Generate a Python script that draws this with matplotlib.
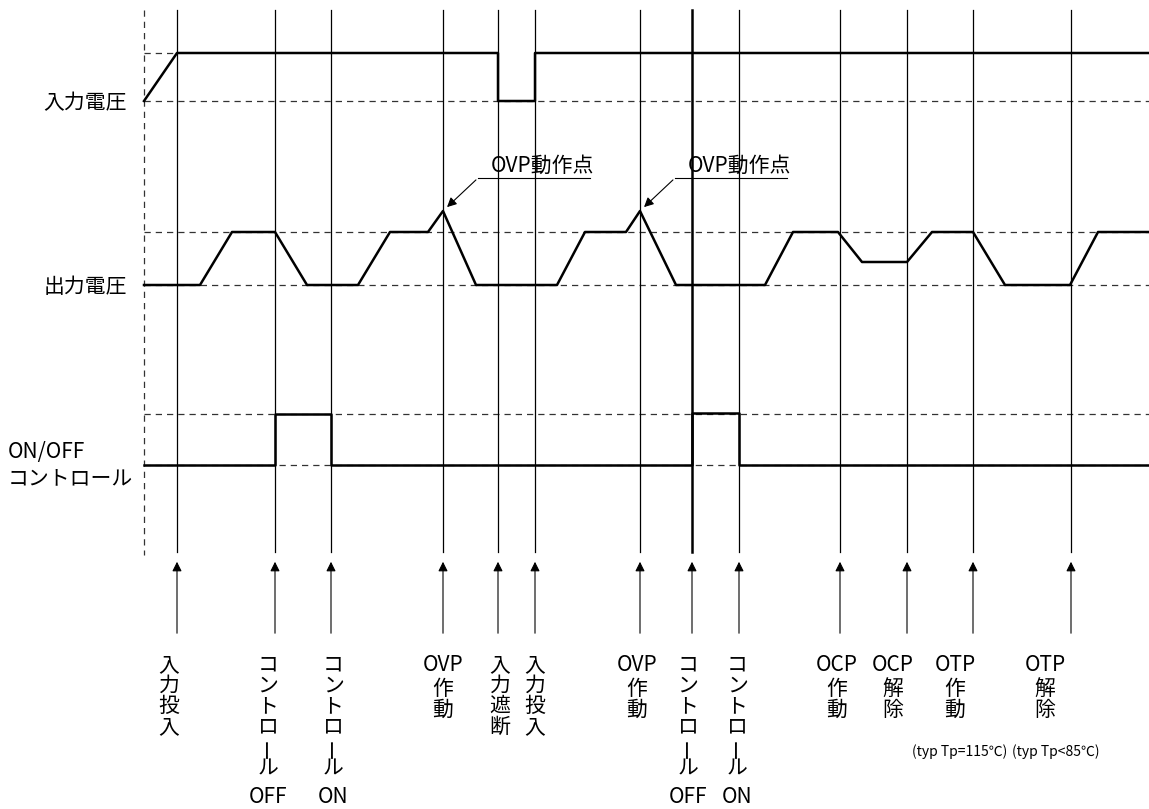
import matplotlib.pyplot as plt

plt.rcParams['font.family'] = ['Noto Sans CJK JP', 'DejaVu Sans']

# event times (x, pixel units of the drawing)
events_x = [177, 275, 331, 443, 498, 535, 640, 692, 739, 840, 907, 973, 1071]
event_lw = [0.9, 0.9, 0.9, 0.9, 0.9, 0.9, 0.9, 1.8, 0.9, 0.9, 0.9, 0.9, 0.9]

# input voltage waveform
vin_t = [144, 177, 498, 498, 535, 535, 1149]
vin_v = [101, 53, 53, 101, 101, 53, 53]

# output voltage waveform
vout_t = [144, 200, 232, 275, 307, 358, 390, 428, 443, 476, 557, 585, 626, 640,
          676, 765, 793, 838, 862, 907, 932, 973, 1005, 1070, 1098, 1149]
vout_v = [285, 285, 232, 232, 285, 285, 232, 232, 211, 285, 285, 232, 232, 211,
          285, 285, 232, 232, 262, 262, 232, 232, 285, 285, 232, 232]

# ON/OFF control waveform
ctl_t = [144, 275, 275, 331, 331, 692, 692, 739, 739, 1149]
ctl_v = [465, 465, 414, 414, 465, 465, 413, 413, 465, 465]

# reference levels (dashed)
levels = [53, 101, 232, 285, 414, 465]

# signal names on the left
sig_names = ["入力電圧", "出力電圧", "ON/OFF", "コントロール"]
sig_y = [103, 287, 452, 478]

# vertical labels under the arrows
col_x = [169, 268, 333, 443, 500, 535, 637, 688, 737, 837, 893, 955, 1045]
col_text = [
    ["入", "力", "投", "入"],
    ["コ", "ン", "ト", "ロ", "ー", "ル"],
    ["コ", "ン", "ト", "ロ", "ー", "ル"],
    ["OVP", "作", "動"],
    ["入", "力", "遮", "断"],
    ["入", "力", "投", "入"],
    ["OVP", "作", "動"],
    ["コ", "ン", "ト", "ロ", "ー", "ル"],
    ["コ", "ン", "ト", "ロ", "ー", "ル"],
    ["OCP", "作", "動"],
    ["OCP", "解", "除"],
    ["OTP", "作", "動"],
    ["OTP", "解", "除"],
]
foot_text = ["OFF", "ON", "OFF", "ON", "(typ Tp=115℃)", "(typ Tp<85℃)"]
foot_x = [268, 333, 688, 737, 960, 1056]
foot_y = [797, 797, 797, 797, 752, 752]

# OVP trip point callouts
ovp_peak_x = [443, 640]
ovp_text_x = [478, 675]

fig = plt.figure(figsize=(11.49, 8.09), dpi=100)
ax = fig.add_axes([0, 0, 1, 1])
ax.set_xlim(0, 1149)
ax.set_ylim(809, 0)
ax.axis("off")

dash = dict(color="#333333", lw=0.9, linestyle=(0, (5, 4)))
FS = 15

# left dashed axis
ax.plot([144, 144], [10, 555], **dash)
for y in levels:
    x_end = 177 if y == 53 else 1149
    ax.plot([144, x_end], [y, y], **dash)

# event lines and arrows
for x, lw in zip(events_x, event_lw):
    ax.plot([x, x], [10, 552], color="black", lw=lw)
    ax.annotate("", xy=(x, 559), xytext=(x, 636),
                arrowprops=dict(arrowstyle="-|>", color="black", lw=0.8,
                                mutation_scale=14))

# waveforms
ax.plot(vin_t, vin_v, color="black", lw=1.8)
ax.plot(vout_t, vout_v, color="black", lw=1.8)
ax.plot(ctl_t, ctl_v, color="black", lw=1.8)

# OVP callouts
for px, tx in zip(ovp_peak_x, ovp_text_x):
    ax.plot([tx, tx + 112], [178, 178], color="black", lw=0.8)
    ax.annotate("", xy=(px + 2, 209), xytext=(tx, 178),
                arrowprops=dict(arrowstyle="-|>", color="black", lw=0.8,
                                mutation_scale=14))
    ax.text(tx + 64, 177, "OVP動作点", ha="center", va="bottom", fontsize=FS)

# signal names
ax.text(127, sig_y[0], sig_names[0], ha="right", va="center", fontsize=FS)
ax.text(127, sig_y[1], sig_names[1], ha="right", va="center", fontsize=FS)
ax.text(8, sig_y[2], sig_names[2], ha="left", va="center", fontsize=FS)
ax.text(8, sig_y[3], sig_names[3], ha="left", va="center", fontsize=FS)

# bottom vertical labels
for x, chars in zip(col_x, col_text):
    y = 665
    for c in chars:
        rot = 90 if c == "ー" else 0
        ax.text(x, y, c, ha="center", va="center", fontsize=FS, rotation=rot)
        y += 20.6 if len(c) == 1 else 24

for t, x, y in zip(foot_text, foot_x, foot_y):
    fs = 10 if t.startswith("(") else FS
    ax.text(x, y, t, ha="center", va="center", fontsize=fs)

fig.savefig("out.png", dpi=100)
